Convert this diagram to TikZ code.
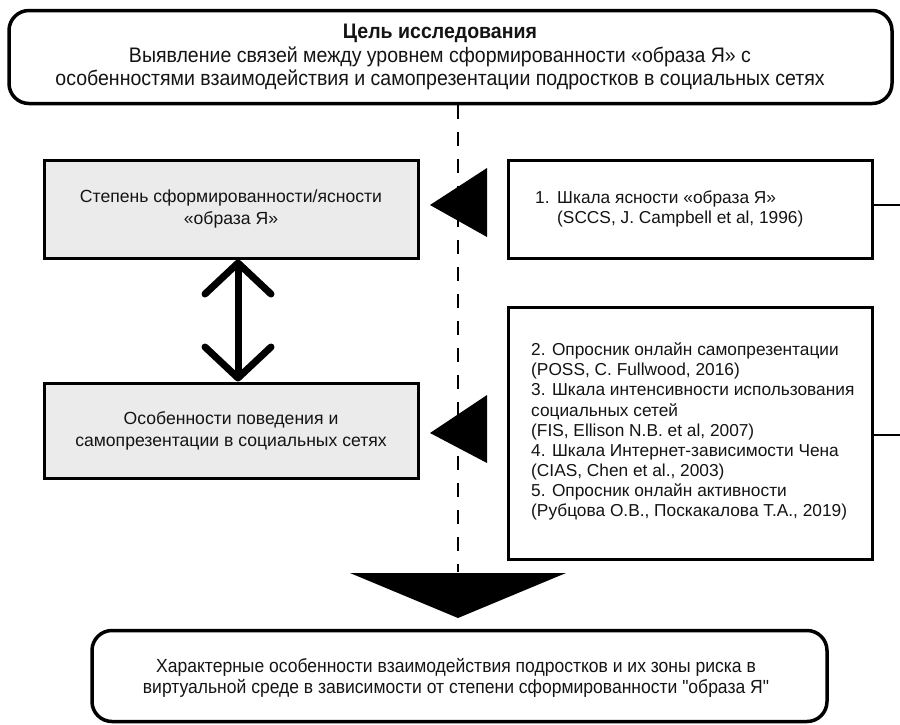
\documentclass[tikz,border=0pt]{standalone}
\usepackage{fontspec}
\setmainfont{Liberation Sans}
\newfontfamily\condfont[FakeStretch=0.93]{Liberation Sans}
\newfontfamily\condfontb[FakeStretch=0.922]{Liberation Sans}
\usetikzlibrary{arrows.meta}
\definecolor{boxgray}{HTML}{EBEBEB}
\definecolor{ink}{HTML}{141414}
\begin{document}
\begin{tikzpicture}[x=1pt,y=-1pt,
  roundbox/.style={draw=black, line width=3.5pt, rounded corners=20pt, fill=white, inner sep=0pt},
  graybox/.style={draw=black, line width=3pt, fill=boxgray, inner sep=0pt, minimum width=374pt, text=ink, align=center,
    font=\fontsize{17.6}{22}\selectfont},
  whitebox/.style={draw=black, line width=3pt, fill=white, inner sep=0pt, minimum width=364pt},
  boxtext/.style={text=ink, align=left, inner sep=0pt, font=\fontsize{17.3}{20.1}\selectfont},
  dbl/.style={line width=7pt, {Straight Barb[length=31pt,width=66pt,round]}-{Straight Barb[length=31pt,width=66pt,round]}},
  sepline/.style={line width=2pt, dash pattern=on 14pt off 13pt},
  edgeline/.style={line width=2.5pt}
]
\useasboundingbox (0,0) rectangle (900,724);

% goal box
\node[roundbox, minimum width=883pt, minimum height=93pt] (goal) at (450.5,57) {};
\node[text=ink, align=center, inner sep=0pt, font=\condfont\fontsize{21}{23.5}\selectfont] (goaltext) at (440,57)
  {\textbf{Цель исследования}\\
   Выявление связей между уровнем сформированности «образа Я» с\\
   особенностями взаимодействия и самопрезентации подростков в социальных сетях};

% dashed separator
\coordinate (d1) at (458,105);
\coordinate (d2) at (458,572);
\draw[sepline] (d1) -- (d2);

% left boxes
\node[graybox, minimum height=98pt] (lb1) at (231,209)
  {Степень сформированности/ясности\\«образа Я»};
\node[graybox, minimum height=95pt] (lb2) at (231,430.5)
  {Особенности поведения и\\самопрезентации в социальных сетях};

% right boxes
\node[whitebox, minimum height=98pt] (rb1) at (690,209) {};
\node[boxtext, anchor=west] (rb1text) at (535,208.5)
  {\makebox[22pt][l]{1.}Шкала ясности «образа Я»\\
   \makebox[22pt][l]{}(SCCS, J. Campbell et al, 1996)};
\node[whitebox, minimum height=252pt] (rb2) at (690,433) {};
\node[boxtext, anchor=west] (rb2text) at (531,431.5)
  {2. Опросник онлайн самопрезентации\\
   (POSS, C. Fullwood, 2016)\\
   3. Шкала интенсивности использования\\
   социальных сетей\\
   (FIS, Ellison N.B. et al, 2007)\\
   4. Шкала Интернет-зависимости Чена\\
   (CIAS, Chen et al., 2003)\\
   5. Опросник онлайн активности\\
   (Рубцова О.В., Поскакалова Т.А., 2019)};

% lines to the right edge
\coordinate (e1) at (900,205);
\coordinate (e2) at (900,435);
\draw[edgeline] (rb1.east |- e1) -- (e1);
\draw[edgeline] (rb2.east |- e2) -- (e2);

% big triangles
\fill[black] (430,205) -- (487,168) -- (487,237) -- cycle;
\fill[black] (430,433) -- (487,395) -- (487,463) -- cycle;
\fill[black] (350,573) -- (566,573) -- (458,618) -- cycle;

% double arrow
\draw[dbl] ([xshift=7pt]lb1.south) -- ([xshift=7pt]lb2.north);

% result box
\node[roundbox, minimum width=735pt, minimum height=91pt] (res) at (459.5,676) {};
\node[text=ink, align=center, inner sep=0pt, font=\condfontb\fontsize{19}{20.5}\selectfont] (restext) at (456,678)
  {Характерные особенности взаимодействия подростков и их зоны риска в\\
   виртуальной среде в зависимости от степени сформированности "образа Я"};
\end{tikzpicture}
\end{document}
